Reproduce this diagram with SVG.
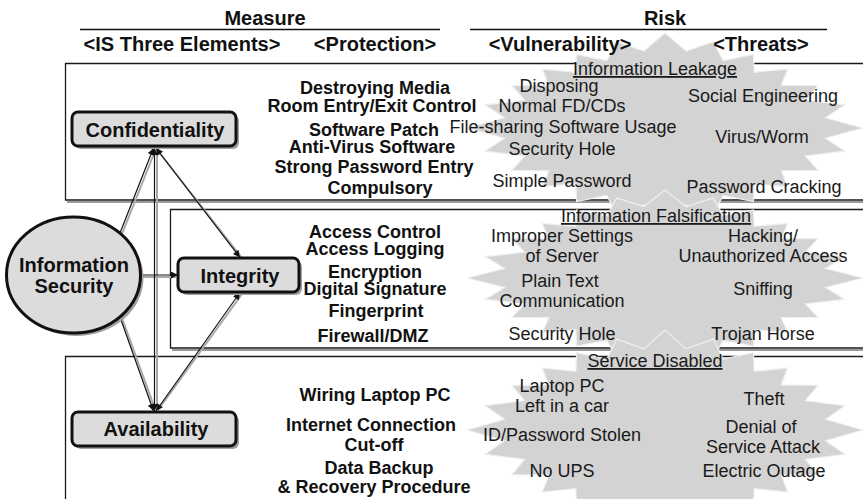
<svg xmlns="http://www.w3.org/2000/svg" xmlns:xlink="http://www.w3.org/1999/xlink" width="863" height="499" viewBox="0 0 863 499">
<style>
text{font-family:"Liberation Sans",Arial,sans-serif;text-anchor:middle}
.hdr{font-weight:bold;font-size:20px;fill:#111}
.nd{font-weight:bold;font-size:20px;fill:#111}
.pr{font-weight:bold;font-size:18px;fill:#111}
.rk{font-size:18px;fill:#1a1a1a}
.u{text-decoration:underline}
.frame{fill:none;stroke:#1a1a1a;stroke-width:1.3}
.fsh{fill:none;stroke:#9a9a9a;stroke-width:2}
.star{fill:#d3d3d3;stroke:#f0f0f0;stroke-width:1.2}
.box{fill:#dcdcdc;stroke:#111;stroke-width:3}
.sh{fill:#a0a0a0}
.c{stroke:#111;stroke-width:1.2;fill:none}
.cs{stroke:#a8a8a8;stroke-width:2;fill:none}
</style>
<defs>
<polygon id="burst" points="100,0 81.07,10.67 90.91,24.36 70.9,29.37 77.36,44.67 58.71,45.05 62,62 45.05,58.71 44.67,77.36 29.37,70.9 24.36,90.91 10.67,81.07 0,100 -10.67,81.07 -24.36,90.91 -29.37,70.9 -44.67,77.36 -45.05,58.71 -62,62 -58.71,45.05 -77.36,44.67 -70.9,29.37 -90.91,24.36 -81.07,10.67 -100,0 -81.07,-10.67 -90.91,-24.36 -70.9,-29.37 -77.36,-44.67 -58.71,-45.05 -62,-62 -45.05,-58.71 -44.67,-77.36 -29.37,-70.9 -24.36,-90.91 -10.67,-81.07 0,-100 10.67,-81.07 24.36,-90.91 29.37,-70.9 44.67,-77.36 45.05,-58.71 62,-62 58.71,-45.05 77.36,-44.67 70.9,-29.37 90.91,-24.36 81.07,-10.67" vector-effect="non-scaling-stroke"/>
<marker id="ah" viewBox="0 0 10 10" refX="10" refY="5" markerWidth="9" markerHeight="7" markerUnits="userSpaceOnUse" orient="auto-start-reverse"><path d="M0,0 L10,5 L0,10 z" fill="#111"/></marker>
</defs>
<rect width="863" height="499" fill="#fff"/>

<!-- frames -->
<g id="frames">
<path class="fsh" d="M67,202 H870"/>
<path class="frame" d="M870,63.5 H65.5 V200 H870"/>
<path class="fsh" d="M172,350 H870"/>
<path class="frame" d="M870,209.5 H170.5 V348 H870"/>
<path class="frame" d="M870,356.5 H65.5 V505"/>
</g>

<!-- risk bursts -->
<g id="bursts">
<use xlink:href="#burst" class="star" transform="translate(665,128) scale(1.98,0.95)"/>
<use xlink:href="#burst" class="star" transform="translate(665,278) scale(1.98,0.88)"/>
<use xlink:href="#burst" class="star" transform="translate(665,430) scale(1.98,1.0)"/>
</g>

<!-- headers -->
<g id="headers">
<text class="hdr" x="265" y="25">Measure</text>
<text class="hdr" x="665" y="25">Risk</text>
<line x1="80" y1="29.5" x2="440" y2="29.5" stroke="#111" stroke-width="1.3"/>
<line x1="470" y1="29.5" x2="827" y2="29.5" stroke="#111" stroke-width="1.3"/>
<text class="hdr" x="182" y="51">&lt;IS Three Elements&gt;</text>
<text class="hdr" x="375" y="51">&lt;Protection&gt;</text>
<text class="hdr" x="560" y="51">&lt;Vulnerability&gt;</text>
<text class="hdr" x="761" y="51">&lt;Threats&gt;</text>
</g>

<!-- connectors -->
<g id="connectors">
<line class="cs" x1="157" y1="150" x2="157" y2="409" stroke-width="4"/>
<line class="cs" x1="122" y1="234" x2="155" y2="151"/>
<line class="cs" x1="142" y1="277" x2="176" y2="277"/>
<line class="cs" x1="122" y1="318" x2="155" y2="409"/>
<line class="cs" x1="158" y1="151" x2="242" y2="258"/>
<line class="cs" x1="242" y1="294" x2="158" y2="410"/>
<line class="c" x1="154.5" y1="148" x2="154.5" y2="411" marker-start="url(#ah)" marker-end="url(#ah)"/>
<line class="c" x1="120" y1="233" x2="153.5" y2="148" marker-end="url(#ah)"/>
<line class="c" x1="141" y1="275" x2="178" y2="275" marker-end="url(#ah)"/>
<line class="c" x1="120" y1="317" x2="153.5" y2="411" marker-end="url(#ah)"/>
<line class="c" x1="156" y1="148" x2="240" y2="257.5" marker-start="url(#ah)" marker-end="url(#ah)"/>
<line class="c" x1="240" y1="292.5" x2="156" y2="411" marker-start="url(#ah)" marker-end="url(#ah)"/>
</g>

<!-- nodes -->
<g id="node-infosec">
<ellipse class="sh" cx="76.5" cy="278" rx="67" ry="58"/>
<ellipse class="box" cx="73.5" cy="275" rx="67" ry="58"/>
<text class="nd" x="74" y="272">Information</text>
<text class="nd" x="74" y="293">Security</text>
</g>
<g id="node-confidentiality">
<rect class="sh" x="75" y="115" width="164" height="34" rx="6"/>
<rect class="box" x="72" y="112" width="164" height="34" rx="6"/>
<text class="nd" x="155" y="137">Confidentiality</text>
</g>
<g id="node-integrity">
<rect class="sh" x="181" y="261" width="121" height="34" rx="6"/>
<rect class="box" x="178" y="258" width="121" height="34" rx="6"/>
<text class="nd" x="240" y="283">Integrity</text>
</g>
<g id="node-availability">
<rect class="sh" x="75" y="415" width="164" height="34" rx="6"/>
<rect class="box" x="72" y="412" width="164" height="34" rx="6"/>
<text class="nd" x="156" y="436">Availability</text>
</g>

<!-- confidentiality row -->
<g id="conf-protection">
<text class="pr" x="375" y="94">Destroying Media</text>
<text class="pr" x="372" y="112">Room Entry/Exit Control</text>
<text class="pr" x="374" y="136">Software Patch</text>
<text class="pr" x="372" y="153">Anti-Virus Software</text>
<text class="pr" x="374" y="173">Strong Password Entry</text>
<text class="pr" x="380" y="194">Compulsory</text>
</g>
<g id="conf-risk">
<text class="rk u" x="655" y="75">Information Leakage</text>
<text class="rk" x="559" y="92">Disposing</text>
<text class="rk" x="562" y="112">Normal FD/CDs</text>
<text class="rk" x="563" y="133">File-sharing Software Usage</text>
<text class="rk" x="562" y="155">Security Hole</text>
<text class="rk" x="562" y="187">Simple Password</text>
<text class="rk" x="763" y="102">Social Engineering</text>
<text class="rk" x="762" y="143">Virus/Worm</text>
<text class="rk" x="764" y="193">Password Cracking</text>
</g>

<!-- integrity row -->
<g id="int-protection">
<text class="pr" x="375" y="238">Access Control</text>
<text class="pr" x="375" y="255">Access Logging</text>
<text class="pr" x="375" y="278">Encryption</text>
<text class="pr" x="375" y="295">Digital Signature</text>
<text class="pr" x="376" y="317">Fingerprint</text>
<text class="pr" x="373" y="342">Firewall/DMZ</text>
</g>
<g id="int-risk">
<text class="rk u" x="656" y="222">Information Falsification</text>
<text class="rk" x="562" y="242">Improper Settings</text>
<text class="rk" x="562" y="262">of Server</text>
<text class="rk" x="560" y="287">Plain Text</text>
<text class="rk" x="562" y="307">Communication</text>
<text class="rk" x="562" y="340">Security Hole</text>
<text class="rk" x="763" y="242">Hacking/</text>
<text class="rk" x="763" y="262">Unauthorized Access</text>
<text class="rk" x="763" y="295">Sniffing</text>
<text class="rk" x="763" y="340">Trojan Horse</text>
</g>

<!-- availability row -->
<g id="avail-protection">
<text class="pr" x="375" y="401">Wiring Laptop PC</text>
<text class="pr" x="371" y="431">Internet Connection</text>
<text class="pr" x="374" y="451">Cut-off</text>
<text class="pr" x="379" y="474">Data Backup</text>
<text class="pr" x="374" y="493">&amp; Recovery Procedure</text>
</g>
<g id="avail-risk">
<text class="rk u" x="655" y="367">Service Disabled</text>
<text class="rk" x="562" y="392">Laptop PC</text>
<text class="rk" x="562" y="412">Left in a car</text>
<text class="rk" x="562" y="441">ID/Password Stolen</text>
<text class="rk" x="562" y="477">No UPS</text>
<text class="rk" x="764" y="405">Theft</text>
<text class="rk" x="761" y="433">Denial of</text>
<text class="rk" x="763" y="453">Service Attack</text>
<text class="rk" x="764" y="477">Electric Outage</text>
</g>
</svg>
